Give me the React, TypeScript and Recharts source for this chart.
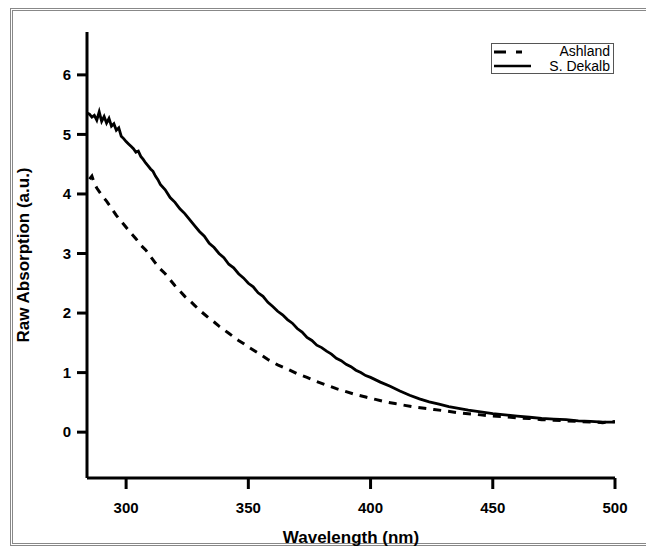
import React from "react";
import { LineChart, Line, XAxis, YAxis, Label } from "recharts";

const xTicks = [300, 350, 400, 450, 500];
const yTicks = [0, 1, 2, 3, 4, 5, 6];
const seriesNames = ["Ashland", "S. Dekalb"];

const dekalbNm = [284, 285, 286, 287, 288, 289, 290, 291, 292, 293, 294, 295, 296, 297, 298, 299, 300, 301, 302, 303, 304, 305, 306, 307, 308, 309, 310, 311, 312, 313, 314, 316, 318, 320, 322, 324, 326, 328, 330, 332, 334, 336, 338, 340, 342, 344, 346, 348, 350, 352, 354, 356, 358, 360, 362, 364, 366, 368, 370, 372, 374, 376, 378, 380, 382, 384, 386, 388, 390, 392, 394, 396, 398, 400, 404, 408, 412, 416, 420, 424, 428, 432, 436, 440, 445, 450, 455, 460, 465, 470, 475, 480, 485, 490, 495, 500];
const dekalbAbs = [5.36, 5.34, 5.29, 5.32, 5.24, 5.38, 5.22, 5.30, 5.19, 5.27, 5.14, 5.18, 5.07, 5.11, 4.97, 4.93, 4.88, 4.84, 4.80, 4.76, 4.70, 4.72, 4.63, 4.58, 4.52, 4.47, 4.42, 4.38, 4.30, 4.24, 4.16, 4.07, 3.94, 3.86, 3.75, 3.67, 3.57, 3.47, 3.37, 3.29, 3.17, 3.10, 3.00, 2.93, 2.82, 2.76, 2.66, 2.59, 2.50, 2.44, 2.34, 2.28, 2.18, 2.11, 2.03, 1.97, 1.89, 1.83, 1.74, 1.68, 1.59, 1.54, 1.46, 1.42, 1.36, 1.31, 1.24, 1.20, 1.14, 1.10, 1.04, 1.00, 0.95, 0.92, 0.84, 0.77, 0.69, 0.62, 0.56, 0.51, 0.47, 0.43, 0.40, 0.37, 0.34, 0.31, 0.29, 0.27, 0.25, 0.23, 0.22, 0.21, 0.19, 0.18, 0.17, 0.17];

const ashlandNm = [285, 286, 287, 288, 290, 292, 294, 296, 298, 300, 302, 304, 306, 308, 310, 312, 314, 316, 318, 320, 322, 324, 326, 328, 330, 332, 334, 336, 338, 340, 342, 344, 346, 348, 350, 354, 358, 362, 366, 370, 374, 378, 382, 386, 390, 394, 398, 402, 406, 410, 414, 418, 422, 426, 430, 435, 440, 445, 450, 455, 460, 465, 470, 475, 480, 485, 490, 495, 500];
const ashlandAbs = [4.25, 4.30, 4.18, 4.10, 3.98, 3.88, 3.76, 3.64, 3.54, 3.44, 3.34, 3.25, 3.14, 3.06, 2.95, 2.84, 2.74, 2.66, 2.56, 2.46, 2.37, 2.28, 2.21, 2.13, 2.05, 1.98, 1.91, 1.85, 1.78, 1.72, 1.66, 1.60, 1.54, 1.49, 1.43, 1.33, 1.22, 1.13, 1.06, 0.98, 0.92, 0.85, 0.79, 0.73, 0.68, 0.63, 0.59, 0.55, 0.51, 0.48, 0.45, 0.42, 0.40, 0.38, 0.36, 0.33, 0.31, 0.29, 0.27, 0.26, 0.24, 0.23, 0.21, 0.20, 0.19, 0.18, 0.17, 0.16, 0.18];

const dekalbData = dekalbNm.map((x, i) => ({ x, y: dekalbAbs[i] }));
const ashlandData = ashlandNm.map((x, i) => ({ x, y: ashlandAbs[i] }));

const FONT = "'Liberation Sans', Arial, sans-serif";

function LegendBox() {
  return (
    <div
      style={{
        position: "absolute",
        left: 491,
        top: 43,
        border: "1px solid #555",
        width: 123,
        height: 31,
        background: "#fff",
        fontFamily: FONT,
        fontSize: 14,
        boxSizing: "border-box",
        color: "#000",
      }}
    >
      <svg width={42} height={29} style={{ position: "absolute", left: 1, top: 0 }}>
        <line x1={1} y1={8} x2={38} y2={8} stroke="#000" strokeWidth={3} strokeDasharray="12 10 6 10" />
        <line x1={1} y1={22} x2={38} y2={22} stroke="#000" strokeWidth={2.5} />
      </svg>
      <div style={{ position: "absolute", right: 3, top: 0, lineHeight: "14px", height: 14 }}>{seriesNames[0]}</div>
      <div style={{ position: "absolute", right: 3, top: 15, lineHeight: "14px", height: 14 }}>{seriesNames[1]}</div>
    </div>
  );
}

const lineStyle = (s: React.CSSProperties): React.CSSProperties => ({
  position: "absolute",
  background: "#888",
  ...s,
});

export default function App() {
  return (
    <div style={{ position: "absolute", left: 0, top: 0, width: 646, height: 548, overflow: "hidden", background: "#fff" }}>
      <div style={lineStyle({ left: 10, top: 8, width: 1, height: 538 })} />
      <div style={lineStyle({ left: 12, top: 10, width: 1, height: 534 })} />
      <div style={lineStyle({ left: 10, top: 8, width: 636, height: 1 })} />
      <div style={lineStyle({ left: 12, top: 10, width: 634, height: 1 })} />
      <div style={lineStyle({ left: 10, top: 545, width: 636, height: 1 })} />
      <div style={lineStyle({ left: 12, top: 543, width: 634, height: 1 })} />
      <div style={{ position: "absolute", left: 0, top: 0 }}>
        <LineChart
          width={646}
          height={548}
          margin={{ top: 32, right: 31, bottom: 30, left: 27 }}
        >
          <XAxis
            dataKey="x"
            type="number"
            domain={[284, 500]}
            ticks={xTicks}
            allowDataOverflow
            height={40}
            axisLine={{ stroke: "#000", strokeWidth: 3 }}
            tickLine={{ stroke: "#000", strokeWidth: 3 }}
            tickSize={11}
            tickMargin={13}
            tick={{ fill: "#000", fontSize: 15, fontWeight: "bold", fontFamily: FONT }}
          >
            <Label
              value="Wavelength (nm)"
              position="insideBottom"
              offset={-25}
              style={{ fill: "#000", fontSize: 17, fontWeight: "bold", fontFamily: FONT }}
            />
          </XAxis>
          <YAxis
            dataKey="y"
            type="number"
            domain={[-0.77, 6.72]}
            ticks={yTicks}
            allowDataOverflow
            width={60}
            axisLine={{ stroke: "#000", strokeWidth: 3 }}
            tickLine={{ stroke: "#000", strokeWidth: 3 }}
            tickSize={10}
            tickMargin={6}
            tick={{ fill: "#000", fontSize: 15, fontWeight: "bold", fontFamily: FONT }}
          >
            <Label
              value="Raw Absorption (a.u.)"
              angle={-90}
              position="insideLeft"
              offset={-4}
              style={{ fill: "#000", fontSize: 17, fontWeight: "bold", fontFamily: FONT, textAnchor: "middle" }}
            />
          </YAxis>
          <Line
            data={ashlandData}
            dataKey="y"
            name={seriesNames[0]}
            stroke="#000"
            strokeWidth={3}
            strokeDasharray="8 7"
            dot={false}
            isAnimationActive={false}
            type="linear"
          />
          <Line
            data={dekalbData}
            dataKey="y"
            name={seriesNames[1]}
            stroke="#000"
            strokeWidth={2.8}
            dot={false}
            isAnimationActive={false}
            type="linear"
          />
        </LineChart>
      </div>
      <LegendBox />
    </div>
  );
}
